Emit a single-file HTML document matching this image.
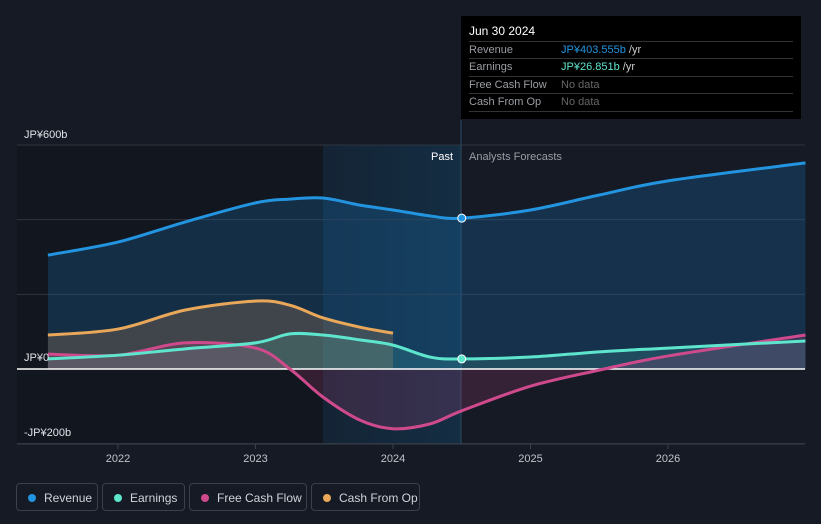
<!DOCTYPE html>
<html><head><meta charset="utf-8"><style>
body{margin:0;background:#151a24;font-family:"Liberation Sans",sans-serif;}
#wrap{position:relative;width:821px;height:524px;overflow:hidden;background:#151a24}
svg text{font-family:"Liberation Sans",sans-serif}
.leg{position:absolute;top:483px;height:28px;border:1px solid #3a404c;border-radius:4px;color:#d0d3d8;font-size:12px;line-height:28px;box-sizing:border-box;padding-left:27px}
.leg i{position:absolute;left:11px;top:10px;width:8px;height:8px;border-radius:50%}
#tip{position:absolute;left:461px;top:16px;width:340px;height:103px;background:#000;color:#fff;font-size:11px}
#tip .row{position:absolute;left:8px;right:8px;height:17px;border-top:1px solid #333;color:#9a9da3;line-height:17px}
#tip .row span{position:absolute;left:92px}
</style></head><body>
<div id="wrap">
<svg id="chart" width="821" height="524"></svg>
<div id="tip">
<div style="position:absolute;left:8px;top:8px;font-size:12px">Jun 30 2024</div>
<div class="row" style="top:25px">Revenue<span><b style="font-weight:normal;color:#2394df">JP¥403.555b</b> <span style="position:static;color:#ccc">/yr</span></span></div>
<div class="row" style="top:42px">Earnings<span><b style="font-weight:normal;color:#5ee5cd">JP¥26.851b</b> <span style="position:static;color:#ccc">/yr</span></span></div>
<div class="row" style="top:60px">Free Cash Flow<span style="color:#666">No data</span></div>
<div class="row" style="top:77px;border-bottom:1px solid #333">Cash From Op<span style="color:#666">No data</span></div>
</div>
<div class="leg" style="left:16px;width:82px"><i style="background:#2394df"></i>Revenue</div>
<div class="leg" style="left:102px;width:83px"><i style="background:#5ee5cd"></i>Earnings</div>
<div class="leg" style="left:189px;width:118px"><i style="background:#cf4a8c"></i>Free Cash Flow</div>
<div class="leg" style="left:311px;width:109px"><i style="background:#e9a75a"></i>Cash From Op</div>
</div>
<script>
const revDates=[2021.49,2022,2022.49,2023,2023.25,2023.49,2023.76,2024,2024.27,2024.5,2025,2025.5,2026,2027];
const revVals=[305,340,394,445,455,458,439,426,410,404,426,466,504,552];
const earnDates=[2021.49,2022,2022.49,2023,2023.25,2023.49,2023.76,2024,2024.27,2024.5,2025,2025.5,2026,2027];
const earnVals=[27,37,54,70,94,91,78,64,32,27,32,46,56,75];
const fcfDates=[2021.49,2022,2022.49,2023,2023.25,2023.49,2023.76,2024,2024.27,2024.5,2025,2025.5,2026,2027];
const fcfVals=[40,37,70,56,0,-75,-137,-160,-147,-112,-46,-3,35,91];
const cfoDates=[2021.49,2022,2022.49,2023,2023.25,2023.49,2023.76,2024];
const cfoVals=[91,107,158,182,171,137,112,96];
const yTicks=[600,400,200,0,-200];
const xTicks=[2022,2023,2024,2025,2026];
const NS='http://www.w3.org/2000/svg';
const svg=document.getElementById('chart');
const X=t=>118+(t-2022)*137.5;
const Y=v=>369-v*0.37333;
function el(tag,attrs,name,parent){const e=document.createElementNS(NS,tag);for(const k in attrs)e.setAttribute(k,attrs[k]);


(parent||svg).appendChild(e);return e;}
function pathD(ds,vs){const p=ds.map((d,i)=>[X(d),Y(vs[i])]);let s='M'+p[0][0]+','+p[0][1];
for(let i=0;i<p.length-1;i++){const p0=p[i-1]||p[i],p1=p[i],p2=p[i+1],p3=p[i+2]||p2;
s+=' C'+(p1[0]+(p2[0]-p0[0])/6)+','+(p1[1]+(p2[1]-p0[1])/6)+' '+(p2[0]-(p3[0]-p1[0])/6)+','+(p2[1]-(p3[1]-p1[1])/6)+' '+p2[0]+','+p2[1];}return s;}
const defs=el('defs',{},'defs');
defs.innerHTML='<linearGradient id="pastg" x1="0" x2="1"><stop offset="0" stop-color="#13283c"/><stop offset="1" stop-color="#143650"/></linearGradient>';
el('rect',{x:17,y:145,width:306,height:299,fill:'#12161e'},'history-background');
el('rect',{x:323,y:145,width:138,height:299,fill:'url(#pastg)','fill-opacity':0.7},'past-highlight');
yTicks.forEach(v=>el('line',{x1:17,x2:805,y1:Y(v),y2:Y(v),stroke:'#2e3440'},'gridline'));
el('line',{x1:461,x2:461,y1:120,y2:444,stroke:'#2a4a63'},'today-line');
function area(ds,vs,fill,op,name){el('path',{d:pathD(ds,vs)+' L'+X(ds[ds.length-1])+','+Y(0)+' L'+X(ds[0])+','+Y(0)+'Z',fill:fill,'fill-opacity':op},name);}
area(revDates,revVals,'#1a6fb0',0.28,'revenue-area');
area(cfoDates,cfoVals,'#e9a75a',0.2,'cfo-area');
area(earnDates,earnVals,'#5ee5cd',0.15,'earnings-area');
area(fcfDates,fcfVals,'#cf4a8c',0.18,'fcf-area');
el('line',{x1:17,x2:805,y1:Y(0),y2:Y(0),stroke:'#fff','stroke-width':1.5},'zero-line');
function line(ds,vs,c,name){el('path',{d:pathD(ds,vs),fill:'none',stroke:c,'stroke-width':3},name);}
line(cfoDates,cfoVals,'#e9a75a','cfo-line');
line(fcfDates,fcfVals,'#cf4a8c','fcf-line');
line(earnDates,earnVals,'#5ee5cd','earnings-line');
line(revDates,revVals,'#2394df','revenue-line');
el('circle',{cx:X(2024.5),cy:Y(404),r:4,fill:'#2394df',stroke:'#fff','stroke-width':1},'revenue-marker');
el('circle',{cx:X(2024.5),cy:Y(27),r:4,fill:'#5ee5cd',stroke:'#fff','stroke-width':1},'earnings-marker');
[[600,'JP¥600b',138],[0,'JP¥0',361],[-200,'-JP¥200b',436]].forEach(a=>{const t=el('text',{x:24,y:a[2],fill:'#e0e2e6','font-size':11},'y-axis-label');t.textContent=a[1];});
el('line',{x1:17,x2:805,y1:444,y2:444,stroke:'#3a404c'},'x-axis-line');
xTicks.forEach(v=>{el('line',{x1:X(v),x2:X(v),y1:444,y2:449,stroke:'#3a404c'},'x-tick');
const t=el('text',{x:X(v),y:462,fill:'#c0c3c9','font-size':11,'text-anchor':'middle'},'x-tick-label');t.textContent=v;});
let t=el('text',{x:453,y:160,fill:'#fff','font-size':11,'text-anchor':'end'},'past-label');t.textContent='Past';
t=el('text',{x:469,y:160,fill:'#9a9da3','font-size':11},'forecast-label');t.textContent='Analysts Forecasts';
</script>
</body></html>
